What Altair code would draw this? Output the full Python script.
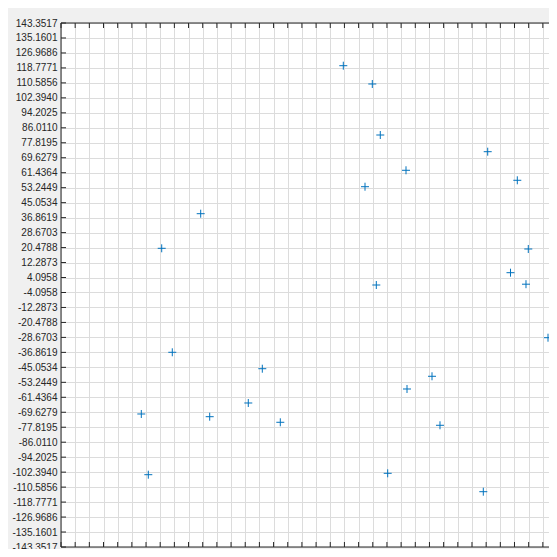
import altair as alt
import pandas as pd

# Point data
x_vals = [19.83, 36.59, 41.21, 56.07, 32.37, 103.30, 120.41, 126.76, 116.47, 125.43,
          -62.60, -85.14, -79.02, -26.99, -35.09, -16.59, 38.90, 138.15, 71.10, 56.65,
          75.72, 45.49, 100.75, -96.93, -57.40, -92.89]
y_vals = [119.99, 109.98, 82.07, 62.76, 53.78, 72.94, 57.29, 19.70, 6.73, 0.44,
          39.01, 20.08, -36.82, -45.80, -64.56, -75.12, 0.00, -28.84, -49.95, -56.90,
          -76.76, -103.03, -113.09, -70.58, -72.06, -103.79]

# Tick values (same on both axes)
tick_pos = [4.0958, 12.2873, 20.4788, 28.6703, 36.8619, 45.0534, 53.2449, 61.4364,
            69.6279, 77.8195, 86.0110, 94.2025, 102.3940, 110.5856, 118.7771,
            126.9686, 135.1601, 143.3517]
ticks = [-v for v in reversed(tick_pos)] + tick_pos

# The reference axes run past the right edge of the window: the visible part
# of the x range ends a little before +143.3517.
x_dom = [-143.3517, 138.7274]
y_dom = [-143.3517, 143.3517]
x_ticks = [t for t in ticks if t <= x_dom[1]]

W, H = 488, 524
xs = alt.Scale(domain=x_dom, nice=False, zero=False)
ys = alt.Scale(domain=y_dom, nice=False, zero=False)

pts = pd.DataFrame({"x": x_vals, "y": y_vals})
tky = pd.DataFrame({"t": ticks})
tkx = pd.DataFrame({"t": x_ticks})
one = pd.DataFrame({"a": [0]})

label_expr = "replace(format(datum.value, '.4f'), '\u2212', '-')"
common = dict(labelExpr=label_expr, grid=True, gridColor="#dcdcdc",
              gridWidth=1, ticks=False, tickSize=0, domain=False,
              labelFont="Liberation Sans", labelFontSize=10, labelColor="#262626",
              labelOverlap=False, labelFlush=False, title=None)
xax = alt.Axis(values=x_ticks, labelPadding=6, **common)
yax = alt.Axis(values=ticks, labelPadding=4, **common)

points = alt.Chart(pts).mark_point(
    shape="M-1,0L1,0M0,-1L0,1", size=64, filled=False, color="#0072BD",
    strokeWidth=1, opacity=1
).encode(
    x=alt.X("x:Q", scale=xs, axis=xax),
    y=alt.Y("y:Q", scale=ys, axis=yax),
)

c = "#262626"
left = alt.Chart(tky).mark_rule(color=c, strokeWidth=1).encode(
    y=alt.Y("t:Q", scale=ys, axis=yax), x=alt.value(0), x2=alt.value(5))
top = alt.Chart(tkx).mark_rule(color=c, strokeWidth=1).encode(
    x=alt.X("t:Q", scale=xs, axis=xax), y=alt.value(0), y2=alt.value(5))
bottom = alt.Chart(tkx).mark_rule(color=c, strokeWidth=1).encode(
    x=alt.X("t:Q", scale=xs, axis=xax), y=alt.value(H - 5), y2=alt.value(H))

border_l = alt.Chart(one).mark_rule(color=c, strokeWidth=1).encode(
    x=alt.value(0), y=alt.value(0), y2=alt.value(H))
border_t = alt.Chart(one).mark_rule(color=c, strokeWidth=1).encode(
    y=alt.value(0), x=alt.value(0), x2=alt.value(W))
border_b = alt.Chart(one).mark_rule(color=c, strokeWidth=1).encode(
    y=alt.value(H), x=alt.value(0), x2=alt.value(W))

chart = alt.layer(points, left, top, bottom, border_l, border_t, border_b).properties(
    width=W, height=H,
    autosize=alt.AutoSizeParams(type="none"),
    padding={"left": 53, "top": 15, "right": 0, "bottom": 2},
    background="#f0f0f0",
).configure_view(fill="white", strokeWidth=0)

chart.save("out.html", embed_options={"renderer": "svg", "actions": False})
